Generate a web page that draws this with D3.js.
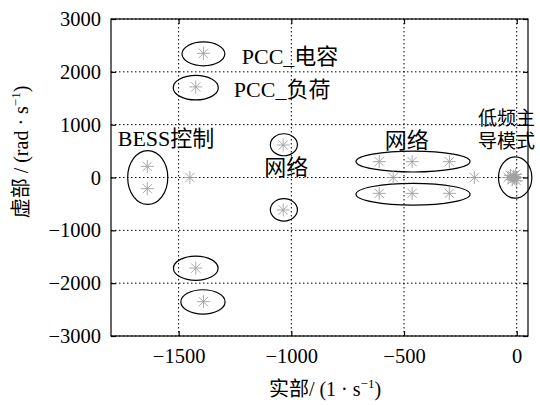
<!DOCTYPE html>
<html><head><meta charset="utf-8">
<script src="https://cdn.jsdelivr.net/npm/d3@7"></script>
<style>
body{margin:0;background:#fff;overflow:hidden;}
text{font-family:"Liberation Serif","Times New Roman","Noto Sans CJK SC",serif;fill:#000;}
</style></head>
<body><svg id="c" width="540" height="405"></svg>
<script>
// ---- data ----
const xTicks = [-1500, -1000, -500, 0];
const yTicks = [-3000, -2000, -1000, 0, 1000, 2000, 3000];
const xDomain = [-1800, 50];
const yDomain = [-3000, 3000];
// eigenvalues: real part, imaginary part
const eigReal = [-1390, -1390, -1424, -1424, -1639, -1639, -1450, -1036, -1036,
                 -610, -464, -299, -610, -464, -299, -548, -188,
                 -38, -28, -20, -14, -9, -5, -2, 0];
const eigImag = [2350, -2350, 1715, -1715, 211, -211, 0, 615, -615,
                 300, 300, 300, -300, -300, -300, 0, 0,
                 0, 40, -40, 20, -20, 60, -60, 0];
// grouping ellipses (data units): centre real, centre imag, half-width, half-height
const ellCx = [-1390, -1424, -1424, -1392, -1637, -1033, -1033, -460, -460, -7];
const ellCy = [2340, 1700, -1717, -2355, 0, 620, -612, 302, -316, 0];
const ellRx = [95, 100, 99, 98, 89, 60, 60, 253, 253, 74];
const ellRy = [226, 232, 230, 230, 510, 208, 213, 198, 206, 392];
// annotations
const labelText = ["PCC_电容", "PCC_负荷", "BESS控制", "网络", "网络", "低频主", "导模式"];
const labelReal = [-1220, -1255, -1770, -1120, -585, -172, -172];
const labelImag = [2150, 1530, 600, 40, 560, 1000, 560];
const labelSmall = [false, false, false, false, false, true, true];

const svg = d3.select("#c");
const L = 111, R = 528, T = 19, B = 336;
const x = d3.scaleLinear().domain(xDomain).range([L, R]);
const y = d3.scaleLinear().domain(yDomain).range([B, T]);

// grid
const g = svg.append("g");
g.selectAll(".gx").data(xTicks).join("line")
  .attr("x1", d => x(d)).attr("x2", d => x(d)).attr("y1", T).attr("y2", B)
  .attr("stroke", "#000").attr("stroke-width", 1).attr("stroke-dasharray", "1.5,2.5");
g.selectAll(".gy").data(yTicks).join("line")
  .attr("y1", d => y(d)).attr("y2", d => y(d)).attr("x1", L).attr("x2", R)
  .attr("stroke", "#000").attr("stroke-width", 1).attr("stroke-dasharray", "1.5,2.5");

// axes (inward ticks, mirrored)
const fs = 20.5;
const fmt = d => d < 0 ? "\u2212" + Math.abs(d) : d;
const ax = svg.append("g").attr("transform", `translate(0,${B})`)
  .call(d3.axisBottom(x).tickValues(xTicks).tickSizeInner(-5).tickSizeOuter(0).tickPadding(12).tickFormat(fmt));
const ay = svg.append("g").attr("transform", `translate(${L},0)`)
  .call(d3.axisLeft(y).tickValues(yTicks).tickSizeInner(-5).tickSizeOuter(0).tickPadding(10).tickFormat(fmt));
const axt = svg.append("g").attr("transform", `translate(0,${T})`)
  .call(d3.axisTop(x).tickValues(xTicks).tickSizeInner(-5).tickSizeOuter(0).tickFormat(""));
const ayr = svg.append("g").attr("transform", `translate(${R},0)`)
  .call(d3.axisRight(y).tickValues(yTicks).tickSizeInner(-5).tickSizeOuter(0).tickFormat(""));
[ax, ay, axt, ayr].forEach(a => {
  a.select(".domain").remove();
  a.selectAll("line").attr("stroke", "#000").attr("stroke-width", 1.2);
  a.selectAll("text").attr("font-size", fs).attr("font-family", '"Liberation Serif", serif').attr("fill", "#000");
});
svg.append("rect").attr("x", L).attr("y", T).attr("width", R - L).attr("height", B - T)
  .attr("fill", "none").attr("stroke", "#000").attr("stroke-width", 1.2);

// ellipses
const ells = ellCx.map((c, i) => ({cx: c, cy: ellCy[i], rx: ellRx[i], ry: ellRy[i]}));
svg.append("g").selectAll("ellipse").data(ells).join("ellipse")
  .attr("cx", d => x(d.cx)).attr("cy", d => y(d.cy))
  .attr("rx", d => x(d.cx + d.rx) - x(d.cx)).attr("ry", d => y(d.cy) - y(d.cy + d.ry))
  .attr("fill", "none").attr("stroke", "#000").attr("stroke-width", 1.2);

// asterisk markers
const pts = eigReal.map((r, i) => ({re: r, im: eigImag[i]}));
const s = 6.5, sd = s * 0.72;
const mk = svg.append("g").selectAll("g").data(pts).join("g")
  .attr("transform", d => `translate(${x(d.re)},${y(d.im)})`)
  .attr("stroke", "#a0a0a0").attr("stroke-width", 0.9);
mk.append("line").attr("x1", -s).attr("x2", s).attr("y1", 0).attr("y2", 0);
mk.append("line").attr("x1", 0).attr("x2", 0).attr("y1", -s).attr("y2", s);
mk.append("line").attr("x1", -sd).attr("x2", sd).attr("y1", -sd).attr("y2", sd);
mk.append("line").attr("x1", -sd).attr("x2", sd).attr("y1", sd).attr("y2", -sd);

// labels
const labs = labelText.map((t, i) => ({t, re: labelReal[i], im: labelImag[i], small: labelSmall[i]}));
svg.append("g").selectAll("text").data(labs).join("text")
  .attr("x", d => x(d.re)).attr("y", d => y(d.im))
  .attr("font-size", d => d.small ? 19 : 22).text(d => d.t);

// axis titles
const xt = svg.append("text").attr("x", 325).attr("y", 396).attr("text-anchor", "middle").attr("font-size", 20);
xt.append("tspan").text("实部/ (1 · s");
xt.append("tspan").attr("font-size", 13).attr("dy", -8).text("\u22121");
xt.append("tspan").attr("dy", 8).text(")");

const yt = svg.append("text").attr("transform", "translate(28,152) rotate(-90)")
  .attr("text-anchor", "middle").attr("font-size", 20);
yt.append("tspan").text("虚部 / (rad · s");
yt.append("tspan").attr("font-size", 13).attr("dy", -8).text("\u22121");
yt.append("tspan").attr("dy", 8).text(")");
</script></body></html>
